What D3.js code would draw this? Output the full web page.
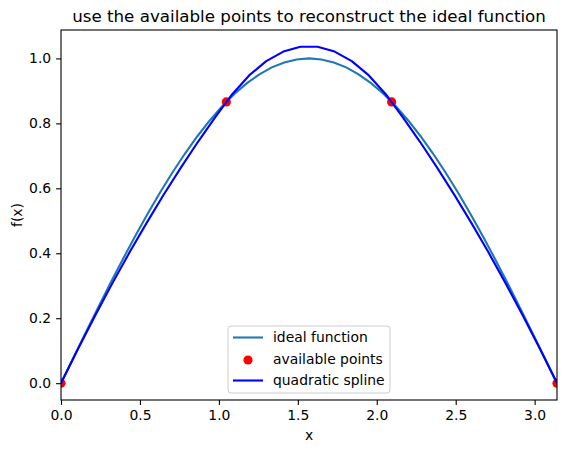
<!DOCTYPE html>
<html>
<head>
<meta charset="utf-8">
<script src="https://cdn.jsdelivr.net/npm/d3@7"></script>
<style>
  body { margin: 0; background: #fff; }
  svg { font-family: "DejaVu Sans", sans-serif; }
</style>
</head>
<body>
<div id="chart"></div>
<script>
var PI = 3.14159265;

// ideal function, sampled every pi/40
var idealX = d3.range(41).map(function(i){ return i * PI / 40; });
var idealY = [0, 0.0785, 0.1564, 0.2334, 0.3090, 0.3827, 0.4540, 0.5225, 0.5878, 0.6494,
              0.7071, 0.7604, 0.8090, 0.8526, 0.8910, 0.9239, 0.9511, 0.9724, 0.9877, 0.9969,
              1.0000,
              0.9969, 0.9877, 0.9724, 0.9511, 0.9239, 0.8910, 0.8526, 0.8090, 0.7604, 0.7071,
              0.6494, 0.5878, 0.5225, 0.4540, 0.3827, 0.3090, 0.2334, 0.1564, 0.0785, 0];

// available points
var pointsX = [0, 1.0472, 2.0944, 3.1416];
var pointsY = [0, 0.866, 0.866, 0];

// quadratic spline, 30 samples
var splineX = d3.range(30).map(function(i){ return i * PI / 29; });
var splineY = [0, 0.1063, 0.2087, 0.3073, 0.4021, 0.4929, 0.5800, 0.6631, 0.7425, 0.8179,
               0.8889, 0.9476, 0.9916, 1.0210, 1.0357, 1.0357, 1.0210, 0.9916, 0.9476, 0.8889,
               0.8179, 0.7425, 0.6631, 0.5800, 0.4929, 0.4021, 0.3073, 0.2087, 0.1063, 0];

var xTicks = [0, 0.5, 1.0, 1.5, 2.0, 2.5, 3.0];
var yTicks = [0, 0.2, 0.4, 0.6, 0.8, 1.0];

var margin = {top: 30, right: 10, bottom: 53, left: 61},
    width = 567 - margin.left - margin.right,
    height = 453 - margin.top - margin.bottom;

var svg = d3.select("#chart")
  .append("svg")
    .attr("width", 567)
    .attr("height", 453)
  .append("g")
    .attr("transform", "translate(" + margin.left + "," + margin.top + ")");

var ymax = d3.max(splineY), ymin = 0, pad = (ymax - ymin) * 0.05;

var x = d3.scaleLinear().domain([0, PI]).range([0, width]);
var y = d3.scaleLinear().domain([ymin - pad, ymax + pad]).range([height, 0]);

// axes
var xAxis = svg.append("g")
  .attr("transform", "translate(0," + height + ")")
  .call(d3.axisBottom(x).tickValues(xTicks).tickFormat(d3.format(".1f")).tickSize(4.9).tickPadding(4.9));
var yAxis = svg.append("g")
  .call(d3.axisLeft(y).tickValues(yTicks).tickFormat(d3.format(".1f")).tickSize(4.9).tickPadding(4.9));

[xAxis, yAxis].forEach(function(a){
  a.select(".domain").remove();
  a.selectAll("line").attr("stroke", "#000").attr("stroke-width", 1.1);
  a.selectAll("text").style("font-size", "13.9px").attr("fill", "#000")
    .style("font-family", "DejaVu Sans, sans-serif");
});

svg.append("defs").append("clipPath").attr("id", "clip")
  .append("rect").attr("width", width).attr("height", height);

var plot = svg.append("g").attr("clip-path", "url(#clip)");

var line = d3.line()
  .x(function(d){ return x(d[0]); })
  .y(function(d){ return y(d[1]); });

plot.append("path")
  .datum(d3.zip(idealX, idealY))
  .attr("fill", "none")
  .attr("stroke", "#1f77b4")
  .attr("stroke-width", 2.1)
  .attr("d", line);

plot.selectAll(".pt")
  .data(d3.zip(pointsX, pointsY))
  .enter()
  .append("circle")
    .attr("class", "pt")
    .attr("cx", function(d){ return x(d[0]); })
    .attr("cy", function(d){ return y(d[1]); })
    .attr("r", 4.6)
    .attr("fill", "red");

plot.append("path")
  .datum(d3.zip(splineX, splineY))
  .attr("fill", "none")
  .attr("stroke", "blue")
  .attr("stroke-width", 2.1)
  .attr("stroke-linejoin", "round")
  .attr("d", line);

// frame
svg.append("rect")
  .attr("width", width).attr("height", height)
  .attr("fill", "none").attr("stroke", "#000").attr("stroke-width", 1.1);

// title and labels
svg.append("text")
  .attr("x", width / 2).attr("y", -8)
  .attr("text-anchor", "middle")
  .style("font-size", "16.7px")
  .text("use the available points to reconstruct the ideal function");

svg.append("text")
  .attr("x", width / 2).attr("y", height + 40)
  .attr("text-anchor", "middle")
  .style("font-size", "13.9px")
  .text("x");

svg.append("text")
  .attr("transform", "translate(-39," + (height / 2) + ") rotate(-90)")
  .attr("text-anchor", "middle")
  .style("font-size", "13.9px")
  .text("f(x)");

// legend
var legend = svg.append("g").attr("transform", "translate(" + (width / 2 - 81) + "," + (height - 74) + ")");
legend.append("rect")
  .attr("width", 162).attr("height", 67).attr("rx", 3)
  .attr("fill", "white").attr("fill-opacity", 0.8)
  .attr("stroke", "#ccc").attr("stroke-width", 1);

var items = ["ideal function", "available points", "quadratic spline"];
var itemColors = ["#1f77b4", "red", "blue"];
items.forEach(function(name, i){
  var cy = 11.5 + i * 21.5;
  if (i === 1) {
    legend.append("circle").attr("cx", 20).attr("cy", cy + 1).attr("r", 4.6).attr("fill", itemColors[i]);
  } else {
    legend.append("line").attr("x1", 5).attr("x2", 35).attr("y1", cy).attr("y2", cy)
      .attr("stroke", itemColors[i]).attr("stroke-width", 2.1);
  }
  legend.append("text")
    .attr("x", 45).attr("y", cy)
    .attr("dy", "0.35em")
    .style("font-size", "13.9px")
    .text(name);
});
</script>
</body>
</html>
